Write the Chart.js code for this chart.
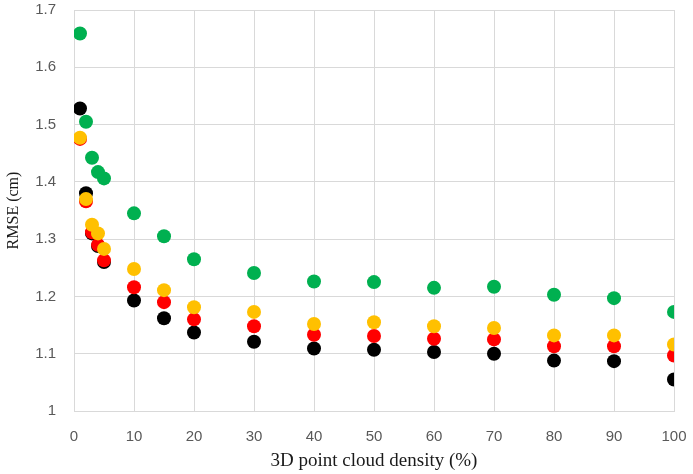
<!DOCTYPE html>
<html>
<head>
<meta charset="utf-8">
<script src="https://cdn.jsdelivr.net/npm/chart.js@4"></script>
<style>
    html, body { margin: 0; padding: 0; background: #fff; }
    #wrap { width: 693px; height: 474px; }
</style>
</head>
<body>
<div id="wrap"><canvas id="rmse-chart"></canvas></div>
<script>
// Point cloud densities (%)
const densities = [1, 2, 3, 4, 5, 10, 15, 20, 30, 40, 50, 60, 70, 80, 90, 100];

// RMSE values (cm)
const greenValues  = [1.659, 1.505, 1.442, 1.417, 1.406, 1.345, 1.305, 1.265, 1.241, 1.226, 1.225, 1.215, 1.217, 1.203, 1.197, 1.173];
const blackValues  = [1.528, 1.380, 1.310, 1.288, 1.260, 1.193, 1.162, 1.137, 1.121, 1.109, 1.107, 1.103, 1.100, 1.088, 1.087, 1.055];
const redValues    = [1.475, 1.366, 1.312, 1.290, 1.263, 1.216, 1.190, 1.160, 1.148, 1.133, 1.131, 1.126, 1.125, 1.113, 1.113, 1.097];
const yellowValues = [1.477, 1.370, 1.325, 1.310, 1.283, 1.248, 1.211, 1.181, 1.173, 1.152, 1.155, 1.148, 1.145, 1.132, 1.132, 1.116];

// Axis ticks
const xTicks = [0, 10, 20, 30, 40, 50, 60, 70, 80, 90, 100];
const yTicks = [1, 1.1, 1.2, 1.3, 1.4, 1.5, 1.6, 1.7];

// Turn x/y arrays into scatter points
function toPoints(values) {
    return densities.map((d, i) => ({ x: d, y: values[i] }));
}

function makeSeries(label, values, color, order) {
    return {
        label: label,
        data: toPoints(values),
        backgroundColor: color,
        borderColor: color,
        borderWidth: 0,
        pointRadius: 7,
        pointHoverRadius: 7,
        order: order
    };
}

// Fix the axis box size and drop the label overflow padding
function fixAxis(size) {
    return axis => {
        if (axis.isHorizontal()) {
            axis.height = size;
        } else {
            axis.width = size;
        }
        axis.paddingTop = 0;
        axis.paddingBottom = 0;
        axis.paddingLeft = 0;
        axis.paddingRight = 0;
    };
}

function createChart() {
    const ctx = document.getElementById('rmse-chart').getContext('2d');
    const tickFont = { family: 'Liberation Sans', size: 15 };

    new Chart(ctx, {
        type: 'scatter',
        data: {
            datasets: [
                makeSeries('green', greenValues, '#00b050', 0),
                makeSeries('yellow', yellowValues, '#ffc000', 1),
                makeSeries('red', redValues, '#ff0000', 2),
                makeSeries('black', blackValues, '#000000', 3)
            ]
        },
        options: {
            responsive: true,
            maintainAspectRatio: false,
            animation: false,
            layout: { padding: { top: 10, right: 19, bottom: 0, left: 0 } },
            plugins: {
                legend: { display: false },
                tooltip: { enabled: false }
            },
            scales: {
                x: {
                    type: 'linear',
                    min: 0,
                    max: 100,
                    afterBuildTicks: axis => { axis.ticks = xTicks.map(v => ({ value: v })); },
                    afterFit: fixAxis(63),
                    grid: { color: '#d9d9d9', drawTicks: false },
                    border: { color: '#d9d9d9' },
                    ticks: { color: '#595959', font: tickFont, padding: 17, maxRotation: 0 },
                    title: {
                        display: true,
                        text: '3D point cloud density (%)',
                        color: '#1a1a1a',
                        font: { family: 'Liberation Serif', size: 19 },
                        padding: { top: 0, bottom: 2 }
                    }
                },
                y: {
                    type: 'linear',
                    min: 1,
                    max: 1.7,
                    afterBuildTicks: axis => { axis.ticks = yTicks.map(v => ({ value: v })); },
                    afterFit: fixAxis(74),
                    grid: { color: '#d9d9d9', drawTicks: false },
                    border: { color: '#d9d9d9' },
                    ticks: {
                        color: '#595959',
                        font: tickFont,
                        padding: 18,
                        callback: v => String(Math.round(v * 10) / 10)
                    },
                    title: {
                        display: true,
                        text: 'RMSE (cm)',
                        color: '#1a1a1a',
                        font: { family: 'Liberation Serif', size: 16 },
                        padding: { top: 4, bottom: 0 }
                    }
                }
            }
        }
    });
}

document.addEventListener('DOMContentLoaded', createChart);
</script>
</body>
</html>
